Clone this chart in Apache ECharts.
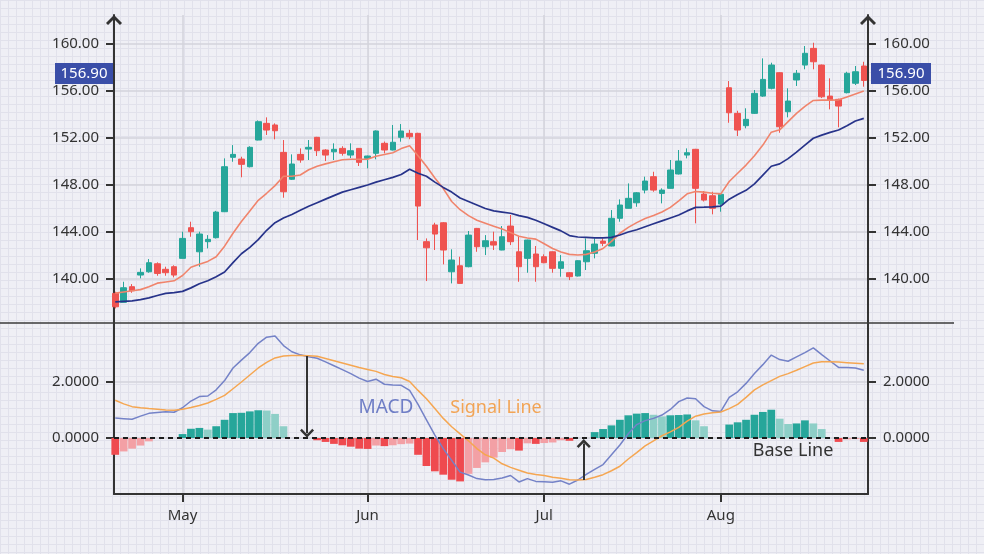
<!DOCTYPE html>
<html><head><meta charset="utf-8">
<script src="https://cdn.jsdelivr.net/npm/echarts@6/dist/echarts.min.js"></script>
<style>
html,body{margin:0;padding:0;}
body{width:984px;height:554px;background-color:#efeff5;
background-image:linear-gradient(#e1e1eb 1px, transparent 1px),linear-gradient(90deg,#e1e1eb 1px,transparent 1px);
background-size:8px 8px;overflow:hidden;}
#c{width:984px;height:554px;}
</style></head><body><div id="c"></div>
<script>
// ---------- DATA ----------
const monthLabels = ['May', 'Jun', 'Jul', 'Aug'];
const monthFirstIndex = [8, 30, 51, 72];
const priceTicks = [140, 144, 148, 152, 156, 160];
const macdTicks = [0, 2];

// [open, close, low, high]
const ohlc = [
[138.78,137.64,137.50,138.92],[138.02,139.26,138.02,139.77],[139.35,139.00,138.83,139.57],[140.34,140.57,140.06,140.91],
[140.62,141.39,140.54,141.70],[141.30,140.48,140.28,141.42],[140.83,140.54,140.28,141.05],[141.05,140.34,140.14,141.17],
[141.76,143.46,141.76,144.03],[144.37,144.03,143.60,144.88],[142.32,143.83,141.05,144.03],[143.18,143.38,142.61,143.74],
[143.52,145.70,143.45,145.80],[145.73,149.56,145.70,150.27],[150.36,150.61,149.98,151.40],[150.21,149.76,148.66,150.41],
[149.56,151.21,149.50,151.30],[151.83,153.39,151.80,153.50],[153.25,152.68,152.26,153.76],[153.11,152.62,151.89,153.25],
[150.78,147.43,146.92,151.83],[148.49,149.79,148.43,150.61],[150.61,150.13,149.90,151.12],[151.06,151.21,150.13,151.83],
[152.06,150.92,150.47,152.10],[150.98,150.55,150.04,151.05],[150.83,151.04,150.13,151.55],[151.12,150.70,150.50,151.30],
[150.55,150.92,150.30,151.55],[151.12,149.93,149.62,151.15],[150.27,150.47,149.42,150.50],[150.70,152.60,150.19,152.65],
[151.55,150.98,150.70,151.70],[150.98,151.64,150.95,153.11],[152.06,152.60,151.69,153.19],[152.40,152.11,151.90,152.70],
[152.40,146.21,143.32,152.45],[143.18,142.66,139.83,143.46],[144.60,143.83,142.47,144.79],[144.79,142.47,141.25,144.85],
[140.62,141.62,139.63,142.53],[141.13,139.63,139.60,141.90],[141.05,143.74,141.00,144.09],[144.31,142.75,142.32,144.35],
[142.75,143.26,142.04,143.74],[143.18,142.89,142.47,144.03],[142.47,143.60,142.45,144.51],[144.51,143.18,142.89,145.45],
[142.32,141.05,139.77,143.60],[141.76,143.32,140.54,143.35],[142.13,141.05,139.77,142.81],[141.90,141.39,141.35,142.10],
[142.32,140.91,140.54,142.35],[140.91,141.47,140.20,142.04],[140.54,140.20,139.91,140.60],[140.26,141.56,140.22,141.60],
[141.47,142.41,140.77,143.46],[142.19,142.98,141.76,143.46],[143.23,143.04,142.80,143.46],[142.81,145.17,142.78,145.87],
[145.17,146.30,144.88,146.78],[146.02,146.87,146.00,148.14],[146.49,147.34,146.15,147.40],[147.57,148.34,147.29,148.71],
[148.71,147.57,147.43,149.13],[147.29,147.57,146.44,147.72],[147.72,149.28,147.70,150.13],[148.94,150.04,148.90,150.98],
[150.55,150.75,150.27,151.12],[151.04,147.72,144.74,151.08],[147.23,146.72,146.60,147.49],[147.09,146.02,145.51,147.43],
[146.38,147.21,145.73,147.29],[156.28,154.15,153.30,156.85],[154.10,152.68,152.17,154.32],[153.05,153.59,152.83,154.53],
[154.10,155.80,154.05,156.09],[155.57,156.99,155.50,158.78],[156.23,158.21,156.14,158.41],[157.56,152.96,152.45,157.60],
[154.24,155.15,153.76,156.23],[156.94,157.51,156.43,157.79],[158.21,159.21,157.85,159.83],[159.63,158.49,157.85,160.11],
[158.21,155.51,155.40,158.25],[155.57,155.23,154.44,157.08],[155.29,154.72,152.91,155.35],[155.86,157.51,155.80,157.64],
[156.66,157.64,156.51,158.13],[158.13,156.90,156.37,158.49]
];

const maFast = [
138.8,138.9,139.0,139.1,139.35,139.65,139.75,139.85,140.3,141.0,
141.25,141.5,141.9,142.8,143.9,144.9,145.8,146.7,147.3,147.95,
148.75,148.75,148.85,149.3,149.6,149.8,149.98,150.15,150.2,150.2,
150.2,150.45,150.6,150.75,151.1,151.35,150.5,149.6,148.6,147.7,
146.6,145.9,145.4,145.0,144.75,144.5,144.25,143.95,143.65,143.5,
143.4,143.0,142.6,142.3,142.1,142.05,142.1,142.3,142.6,143.2,
143.9,144.4,144.8,145.15,145.4,145.7,146.1,146.65,147.25,147.45,
147.4,147.3,147.25,148.3,149.0,149.7,150.5,151.4,152.5,152.7,
153.4,154.1,154.7,155.2,155.23,155.23,155.25,155.5,155.75,156.0
];

const maSlow = [
138.05,138.1,138.15,138.25,138.4,138.6,138.78,138.85,138.95,139.25,
139.6,139.85,140.2,140.6,141.4,142.15,142.7,143.35,144.15,144.8,
145.2,145.5,145.85,146.2,146.5,146.8,147.1,147.4,147.6,147.8,
148.0,148.25,148.45,148.65,148.9,149.35,149.0,148.75,148.25,147.8,
147.4,146.9,146.6,146.3,146.0,145.8,145.7,145.6,145.4,145.25,
145.0,144.7,144.4,144.1,143.7,143.58,143.55,143.5,143.5,143.55,
143.75,144.0,144.2,144.45,144.7,144.95,145.2,145.45,145.8,146.1,
146.12,146.15,146.2,146.8,147.2,147.55,148.1,148.85,149.6,149.8,
150.25,150.8,151.4,151.98,152.25,152.48,152.68,153.05,153.45,153.67
];

const macd = [
0.71,0.69,0.67,0.78,0.88,0.91,0.94,0.92,1.08,1.32,
1.48,1.5,1.72,2.05,2.5,2.78,3.05,3.38,3.6,3.64,
3.3,3.08,2.97,2.9,2.85,2.72,2.58,2.44,2.3,2.14,
2.02,2.1,1.92,1.89,1.88,1.7,1.2,0.65,0.1,-0.38,
-0.8,-1.22,-1.32,-1.45,-1.49,-1.48,-1.43,-1.34,-1.57,-1.45,
-1.55,-1.56,-1.58,-1.53,-1.65,-1.5,-1.3,-1.12,-0.95,-0.6,
-0.25,0.15,0.48,0.62,0.7,0.82,1.02,1.3,1.43,1.4,
1.12,0.97,0.95,1.45,1.65,1.95,2.3,2.62,2.96,2.8,
2.74,2.9,3.05,3.22,2.98,2.75,2.52,2.52,2.5,2.42
];

const signal = [
1.35,1.22,1.12,1.08,1.05,1.03,1.0,0.99,1.03,1.09,
1.16,1.25,1.38,1.52,1.76,2.0,2.25,2.5,2.7,2.86,
2.93,2.95,2.95,2.94,2.92,2.84,2.76,2.68,2.6,2.52,
2.45,2.38,2.27,2.2,2.15,2.02,1.7,1.4,1.05,0.7,
0.4,0.15,-0.1,-0.38,-0.6,-0.72,-0.92,-1.05,-1.15,-1.25,
-1.3,-1.34,-1.4,-1.44,-1.49,-1.5,-1.48,-1.4,-1.31,-1.17,
-1.01,-0.75,-0.52,-0.28,-0.1,0.08,0.22,0.38,0.6,0.78,
0.86,0.9,0.93,1.05,1.2,1.45,1.72,1.9,2.05,2.2,
2.3,2.42,2.55,2.68,2.72,2.72,2.71,2.69,2.67,2.65
];

const hist = [
-0.6,-0.48,-0.38,-0.27,-0.12,0,0,0,0.14,0.33,
0.36,0.30,0.42,0.65,0.89,0.90,0.95,0.99,0.98,0.86,
0.42,0,0,0,-0.08,-0.14,-0.21,-0.26,-0.31,-0.38,
-0.39,-0.27,-0.29,-0.26,-0.22,-0.2,-0.6,-1.0,-1.19,-1.31,
-1.49,-1.55,-1.28,-1.07,-0.87,-0.7,-0.5,-0.4,-0.45,-0.19,
-0.21,-0.18,-0.16,-0.08,-0.1,0,0,0.21,0.32,0.45,
0.65,0.81,0.87,0.89,0.83,0.77,0.81,0.82,0.84,0.63,
0.42,0,0,0.48,0.56,0.65,0.83,0.93,1.01,0.69,
0.5,0.52,0.63,0.52,0.32,0,-0.14,-0.05,-0.04,-0.14
];

// crossover annotations: [index, value at crossover, value where the arrow ends]
const crossovers = [[22.8, 2.93, 0.17], [55.7, -1.5, -0.2]];

// ---------- CHART ----------
const FONT = '"Noto Sans", sans-serif';
const AX = '#333333';
const GRIDC = '#d3d3db';
const chevron = 'path://M0,8 L8,0 L16,8 L14,10 L8,4 L2,10 Z';
const xMin = -0.15, xMax = 89.5;
const pMin = 136.26, pMax = 162.47;
const mMin = -2.0, mMax = 4.107;

const axLine = {show: true, onZero: false, lineStyle: {color: AX, width: 2}};
const axTick = (vals) => ({show: true, customValues: vals, length: 8, lineStyle: {color: AX, width: 2}});
const lblStyle = {color: '#333', fontSize: 15, fontFamily: FONT};

function priceAxis(pos) {
  return {
    type: 'value', gridIndex: 0, position: pos, min: pMin, max: pMax,
    axisLine: {show: true, onZero: false, symbol: ['none', chevron], symbolSize: [16, 10], symbolOffset: [0, -5], lineStyle: {color: AX, width: 2}},
    axisTick: axTick(priceTicks),
    axisLabel: Object.assign({customValues: priceTicks, margin: 15, formatter: v => v.toFixed(2)}, lblStyle),
    splitLine: {show: pos === 'left', lineStyle: {color: GRIDC, width: 1.5}}
  };
}
function macdAxis(pos) {
  return {
    type: 'value', gridIndex: 1, position: pos, min: mMin, max: mMax,
    axisLine: axLine,
    axisTick: axTick(macdTicks),
    axisLabel: Object.assign({customValues: macdTicks, margin: 15, formatter: v => v.toFixed(4)}, lblStyle),
    splitLine: {show: pos === 'left', lineStyle: {color: GRIDC, width: 1.5}}
  };
}

const histColor = (p) => {
  const i = p.dataIndex, v = hist[i], prev = i > 0 ? hist[i - 1] : 0;
  if (v >= 0) return v >= prev ? '#26a69a' : '#8ecfc7';
  return v <= prev ? '#ef4a4f' : '#f3a0a5';
};

const chart = echarts.init(document.getElementById('c'), null, {renderer: 'canvas'});
const option = {
  animation: false,
  backgroundColor: 'transparent',
  textStyle: {fontFamily: FONT},
  grid: [
    {left: 114, right: 116, top: 15, height: 308, outerBoundsMode: 'none'},
    {left: 114, right: 116, top: 323, height: 171, outerBoundsMode: 'none'}
  ],
  xAxis: [
    {type: 'value', gridIndex: 0, min: xMin, max: xMax,
     axisLine: {show: false, onZero: false},
     axisTick: {show: false, customValues: monthFirstIndex},
     axisLabel: {show: false, customValues: monthFirstIndex},
     splitLine: {show: true, lineStyle: {color: GRIDC, width: 1.5}}},
    {type: 'value', gridIndex: 1, min: xMin, max: xMax,
     axisLine: axLine,
     axisTick: axTick(monthFirstIndex),
     axisLabel: Object.assign({customValues: monthFirstIndex, margin: 14,
       formatter: v => monthLabels[monthFirstIndex.indexOf(Math.round(v))]}, lblStyle),
     splitLine: {show: true, lineStyle: {color: GRIDC, width: 1.5}}}
  ],
  yAxis: [priceAxis('left'), priceAxis('right'), macdAxis('left'), macdAxis('right')],
  series: [
    {type: 'candlestick', xAxisIndex: 0, yAxisIndex: 0, barWidth: '72%',
     encode: {x: 0, y: [1, 2, 3, 4]},
     data: ohlc.map((r, i) => [i, r[0], r[1], r[2], r[3]]),
     itemStyle: {color: '#26a69a', color0: '#ef5350', borderColor: '#26a69a', borderColor0: '#ef5350', borderWidth: 1}},
    {type: 'line', xAxisIndex: 0, yAxisIndex: 0, showSymbol: false, z: 3,
     data: maFast.map((v, i) => [i, v]), lineStyle: {color: '#f0846c', width: 1.6}},
    {type: 'line', xAxisIndex: 0, yAxisIndex: 0, showSymbol: false, z: 3,
     data: maSlow.map((v, i) => [i, v]), lineStyle: {color: '#27338a', width: 1.7}},
    {type: 'bar', xAxisIndex: 1, yAxisIndex: 2, barWidth: '92%',
     data: hist.map((v, i) => [i, v]), itemStyle: {color: histColor},
     markLine: {silent: true, symbol: 'none', animation: false, label: {show: false},
       lineStyle: {type: [5, 4], color: '#1c1c1c', width: 2},
       data: [{yAxis: 0}]}},
    {type: 'line', xAxisIndex: 1, yAxisIndex: 2, showSymbol: false, z: 4,
     data: macd.map((v, i) => [i, v]), lineStyle: {color: '#7482c7', width: 1.5},
     markLine: {silent: true, animation: false, symbol: ['none', chevron], symbolSize: [14, 9],
       label: {show: false}, lineStyle: {type: 'solid', color: '#333', width: 2},
       data: crossovers.map(c => [{coord: [c[0], c[1]]}, {coord: [c[0], c[2]]}])}},
    {type: 'line', xAxisIndex: 1, yAxisIndex: 2, showSymbol: false, z: 4,
     data: signal.map((v, i) => [i, v]), lineStyle: {color: '#f5a651', width: 1.5}}
  ]
};
chart.setOption(option);

// last close label boxes, placed through the price axis scale
const lastClose = ohlc[ohlc.length - 1][1];
const py = chart.convertToPixel({yAxisIndex: 0}, lastClose) - 7;
const gridTop = chart.convertToPixel({yAxisIndex: 0}, pMin);
function priceBox(x, w) {
  return {type: 'group', z: 100, children: [
    {type: 'rect', shape: {x: x, y: py - 10.5, width: w, height: 21}, style: {fill: '#3a4ea8'}},
    {type: 'text', x: x + w / 2, y: py + 0.5, style: {text: lastClose.toFixed(2), fill: '#ffffff', font: '15px ' + FONT, align: 'center', verticalAlign: 'middle'}}
  ]};
}
chart.setOption({
  graphic: [
    {type: 'line', z: 100, shape: {x1: 0, y1: gridTop, x2: 954, y2: gridTop}, style: {stroke: '#3a3a3a', lineWidth: 1.5}},
    priceBox(55, 58),
    priceBox(871, 60),
    {type: 'text', z: 100, x: 386, y: 408, style: {text: 'MACD', fill: '#6f7ec6', font: '19px ' + FONT, align: 'center', verticalAlign: 'middle'}},
    {type: 'text', z: 100, x: 496, y: 408, style: {text: 'Signal Line', fill: '#f2a455', font: '18px ' + FONT, align: 'center', verticalAlign: 'middle'}},
    {type: 'text', z: 100, x: 793, y: 451, style: {text: 'Base Line', fill: '#333333', font: '18px ' + FONT, align: 'center', verticalAlign: 'middle'}}
  ]
});
</script>
</body></html>
